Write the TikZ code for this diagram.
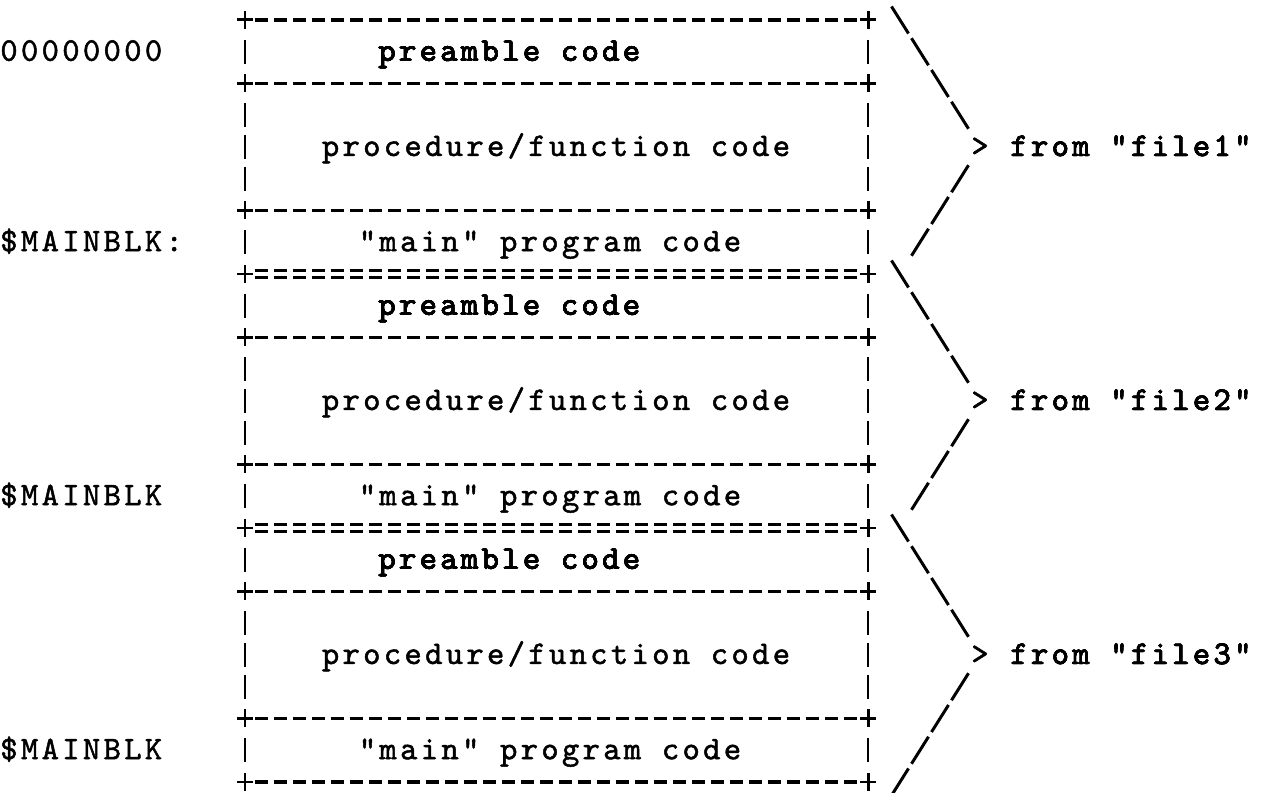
\documentclass[tikz,border=0pt]{standalone}
\usepackage{fontspec}
\usetikzlibrary{positioning}

\newfontfamily\TypedFamily[LetterSpace=10,FakeBold=1.5]{lmmono10-regular.otf}
\newcommand{\TypedFont}{\fontsize{18.8}{22}\TypedFamily}

\begin{document}
\begin{tikzpicture}[
  x=0.02cm, y=-0.02cm,
  line cap=butt,
  rule/.style={line width=2pt,dash pattern=on 0.26cm off 0.12cm},
  eqrule/.style={line width=1.3pt,dash pattern=on 0.26cm off 0.12cm},
  bar/.style={line width=1.6pt},
  cross/.style={line width=1.7pt},
  slant/.style={line width=1.7pt},
  typed/.style={font=\TypedFont,inner sep=0pt,anchor=base}
]

% Typed line grid: row 0 is the top border, one row every \RowH.
\def\RowTop{20}
\def\RowH{31.75}
\def\ColL{245}
\def\ColR{868}
\def\ColMid{556}
\def\TextX{378}
\def\BraceX{900}
\def\CharW{20}

\useasboundingbox (0,0) rectangle (1262,793);

\newcommand{\RowY}[1]{(\RowTop+(#1)*\RowH)}

% "+" at both ends of a rule row
\newcommand{\Corners}[1]{%
  \foreach \cx in {\ColL,\ColR}
    \draw[cross] ({\cx-8},{\RowY{#1}}) -- ({\cx+8},{\RowY{#1}})
                 (\cx,{\RowY{#1}-9}) -- (\cx,{\RowY{#1}+9});
}
% "|" at both ends of a text row
\newcommand{\Bars}[1]{%
  \foreach \cx in {\ColL,\ColR}
    \draw[bar] (\cx,{\RowY{#1}-12}) -- (\cx,{\RowY{#1}+12});
}
% +-----+
\newcommand{\DashRule}[1]{%
  \draw[rule] ({\ColL+10},{\RowY{#1}}) -- ({\ColR-10},{\RowY{#1}});
  \Corners{#1}
}
% +=====+
\newcommand{\EqRule}[1]{%
  \draw[eqrule] ({\ColL+10},{\RowY{#1}-3.5}) -- ({\ColR-10},{\RowY{#1}-3.5});
  \draw[eqrule] ({\ColL+10},{\RowY{#1}+3.5}) -- ({\ColR-10},{\RowY{#1}+3.5});
  \Corners{#1}
}
% one "/" of a brace, at row #1 and brace column #2
\newcommand{\Slash}[2]{%
  \draw[slant] ({\BraceX+(#2)*\CharW+8.5},{\RowY{#1}-13.5})
    -- ({\BraceX+(#2)*\CharW-8.5},{\RowY{#1}+13.5});
}

% Outer borders and the seams between files.
\DashRule{0}
\EqRule{8}
\EqRule{16}
\DashRule{24}

\node[typed,anchor=base west] (addr) at (0,{\RowY{1}+9}) {00000000};

% One block of code per source file.
\foreach \b/\blk in {1/\$MAINBLK:,2/\$MAINBLK,3/\$MAINBLK} {
  \pgfmathtruncatemacro{\rb}{8*(\b-1)}
  \DashRule{\rb+2}
  \DashRule{\rb+6}
  \foreach \k in {1,3,4,5,7}
    \Bars{\rb+\k}
  \node[typed,anchor=base west] (pre\b) at (\TextX,{\RowY{\rb+1}+9}) {preamble code};
  \node[typed] (proc\b) at (\ColMid,{\RowY{\rb+4}+9}) {procedure/function code};
  \node[typed] (main\b) at ({\ColMid-6},{\RowY{\rb+7}+9}) {"main" program code};
  \node[typed,anchor=base west] (blk\b) at (0,{\RowY{\rb+7}+9}) {\blk};
  % the typed brace: \ \ \ \ > / / /
  \foreach \k in {0,...,3}
    \draw[slant] ({\BraceX+\k*\CharW-8.5},{\RowY{\rb+\k}-13.5})
      -- ({\BraceX+\k*\CharW+8.5},{\RowY{\rb+\k}+13.5});
  \node[typed] (gt\b) at ({\BraceX+4*\CharW},{\RowY{\rb+4}+9}) {>};
  \foreach \k in {1,2,3}
    \Slash{\rb+4+\k}{4-\k}
  \node[typed,anchor=base west] (from\b) at ({\BraceX+5*\CharW+10},{\RowY{\rb+4}+9}) {from "file\b"};
}
% last brace closes on the bottom border row
\Slash{24}{0}

\end{tikzpicture}
\end{document}
